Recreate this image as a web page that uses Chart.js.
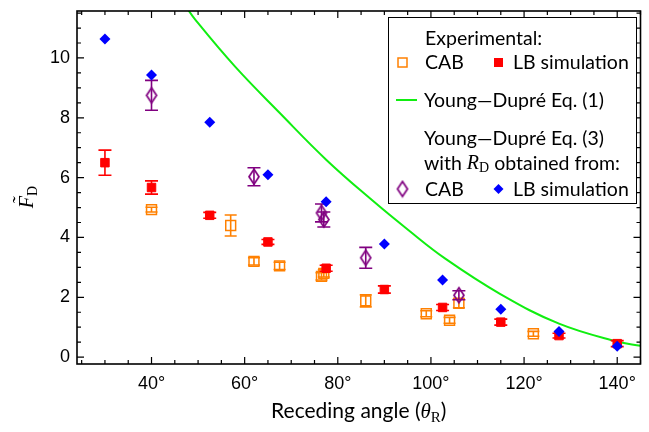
<!DOCTYPE html>
<html>
<head>
<meta charset="utf-8">
<script src="https://cdn.jsdelivr.net/npm/chart.js@4.4.1/dist/chart.umd.min.js"></script>
<style>
  html, body { margin: 0; padding: 0; background: #fff; }
  #wrap { width: 649px; height: 432px; position: relative; }
</style>
</head>
<body>
<div id="wrap"><canvas id="c"></canvas></div>
<script>
/* ── data ─────────────────────────────────────────────────────────── */
// LB simulation (red squares)
const lbAngles = [30, 40, 52.5, 65, 77.5, 90, 102.5, 115, 127.5, 140];
const lbForce  = [6.5, 5.67, 4.74, 3.85, 2.97, 2.26, 1.66, 1.17, 0.72, 0.45];
const lbErr    = [0.42, 0.22, 0.1, 0.08, 0.1, 0.12, 0.1, 0.1, 0.08, 0.1];

// CAB experiments (orange open squares)
const cabAngles = [40, 57, 62, 67.5, 76.5, 77, 86, 99, 104, 106, 122];
const cabForce  = [4.93, 4.4, 3.2, 3.05, 2.7, 2.8, 1.88, 1.45, 1.23, 1.8, 0.78];
const cabErr    = [0.08, 0.35, 0.12, 0.12, 0.12, 0.12, 0.2, 0.1, 0.1, 0.15, 0.08];

// Young–Dupré Eq. (3) with R_D from CAB (purple open diamonds)
const ydCabAngles = [40, 62, 76.5, 77, 86, 106];
const ydCabForce  = [8.75, 6.03, 4.82, 4.6, 3.32, 2.07];
const ydCabErr    = [0.5, 0.3, 0.3, 0.25, 0.35, 0.15];

// Young–Dupré Eq. (3) with R_D from LB simulation (blue diamonds)
const ydLbForce = [10.63, 9.43, 7.85, 6.1, 5.19, 3.78, 2.58, 1.6, 0.86, 0.36];

// Young–Dupré Eq. (1) curve (green)
const eq1Angles = [47, 49.6, 58, 67.6, 77.5, 87.4, 95.2, 103, 115, 127.5, 140, 145];
const eq1Force  = [11.8, 11.24, 9.7, 8.15, 6.6, 5.24, 4.24, 3.3, 2.1, 1.12, 0.52, 0.38];

const xTickLabels = [40, 60, 80, 100, 120, 140];
const yTickLabels = [0, 2, 4, 6, 8, 10];

const X_MIN = 24, X_MAX = 145;
const Y_MIN = -0.23, Y_MAX = 11.57;

const ORANGE = '#ff8000';
const RED    = '#ff0000';
const PURPLE = '#800080';
const BLUE   = '#0000ff';
const GREEN  = '#11ee11';

const TEXT_FONT = '19.5px Lato, "Open Sans", sans-serif';
const SERIF_IT  = 'italic 20px "Liberation Serif", "DejaVu Serif", serif';
const SERIF     = '14px "Liberation Serif", "DejaVu Serif", serif';

const pts = (xs, ys) => xs.map((x, i) => ({ x, y: ys[i] }));

/* ── open diamond marker (a bit taller than wide) ─────────────────── */
function diamondCanvas(w, h, color, lw) {
  const c = document.createElement('canvas');
  c.width = w + 4; c.height = h + 4;
  const g = c.getContext('2d');
  const cx = c.width / 2, cy = c.height / 2;
  g.strokeStyle = color; g.lineWidth = lw;
  g.beginPath();
  g.moveTo(cx, cy - h / 2); g.lineTo(cx + w / 2, cy);
  g.lineTo(cx, cy + h / 2); g.lineTo(cx - w / 2, cy);
  g.closePath(); g.stroke();
  return c;
}
const purpleDiamond = diamondCanvas(10, 15, PURPLE, 1.7);

/* ── error bars, drawn right after each dataset ───────────────────── */
const errorBars = {
  id: 'errorBars',
  afterDatasetDraw(chart, args) {
    const ds = chart.data.datasets[args.index];
    if (!ds.errors) return;
    const { ctx, scales: { x, y } } = chart;
    ctx.save();
    ctx.strokeStyle = ds.errColor;
    ctx.lineWidth = 1.6;
    ds.data.forEach((p, i) => {
      const e = ds.errors[i];
      const px = x.getPixelForValue(p.x);
      const t = y.getPixelForValue(p.y + e);
      const b = y.getPixelForValue(p.y - e);
      ctx.beginPath();
      ctx.moveTo(px, t); ctx.lineTo(px, b);
      ctx.moveTo(px - ds.capW, t); ctx.lineTo(px + ds.capW, t);
      ctx.moveTo(px - ds.capW, b); ctx.lineTo(px + ds.capW, b);
      ctx.stroke();
    });
    ctx.restore();
  },
};

/* ── frame, inward ticks, axis titles, legend ─────────────────────── */
const decor = {
  id: 'decor',
  afterDraw(chart) {
    const { ctx, chartArea: a, scales: { x, y } } = chart;
    ctx.save();
    ctx.strokeStyle = '#000';
    ctx.lineWidth = 1.6;
    ctx.strokeRect(a.left, a.top, a.right - a.left, a.bottom - a.top);

    ctx.lineWidth = 1.2;
    ctx.beginPath();
    for (let v = 25; v <= X_MAX; v += 5) {
      const px = x.getPixelForValue(v);
      const len = v % 20 === 0 ? 7 : 4;
      ctx.moveTo(px, a.bottom); ctx.lineTo(px, a.bottom - len);
      ctx.moveTo(px, a.top);    ctx.lineTo(px, a.top + len);
    }
    for (let v = 0; v <= Y_MAX; v += 0.5) {
      const py = y.getPixelForValue(v);
      const len = v % 2 === 0 ? 7 : 4;
      ctx.moveTo(a.left, py);  ctx.lineTo(a.left + len, py);
      ctx.moveTo(a.right, py); ctx.lineTo(a.right - len, py);
    }
    ctx.stroke();

    ctx.fillStyle = '#000';
    ctx.textBaseline = 'alphabetic';

    // y title: F~ with subscript D, rotated
    ctx.save();
    ctx.translate(33, 197);
    ctx.rotate(-Math.PI / 2);
    ctx.font = SERIF_IT;
    const fW = ctx.measureText('F').width;
    ctx.font = SERIF;
    const dW = ctx.measureText('D').width;
    const x0 = -(fW + dW) / 2;
    ctx.font = SERIF_IT;
    ctx.fillText('F', x0, 0);
    ctx.fillText('\u02DC', x0 + 4, -6);
    ctx.font = SERIF;
    ctx.fillText('D', x0 + fW, 4);
    ctx.restore();

    // x title: Receding angle (θR)
    const cx = (a.left + a.right) / 2;
    const sans = '21px Lato, "Open Sans", sans-serif';
    const parts = [
      { s: 'Receding angle (', f: sans, dy: 0 },
      { s: '\u03B8', f: 'italic 21px "Liberation Serif", serif', dy: 0 },
      { s: 'R', f: '15px "Liberation Serif", serif', dy: 4 },
      { s: ')', f: sans, dy: 0 },
    ];
    let tw = 0;
    parts.forEach(p => { ctx.font = p.f; p.w = ctx.measureText(p.s).width; tw += p.w; });
    let tx = cx - tw / 2;
    parts.forEach(p => { ctx.font = p.f; ctx.fillText(p.s, tx, 418 + p.dy); tx += p.w; });

    // legend
    const L = { l: 388, t: 17, r: 636, b: 203 };
    ctx.fillStyle = '#fff';
    ctx.fillRect(L.l, L.t, L.r - L.l, L.b - L.t);
    ctx.strokeStyle = '#000';
    ctx.lineWidth = 1;
    ctx.strokeRect(L.l + 0.5, L.t + 0.5, L.r - L.l, L.b - L.t);

    ctx.fillStyle = '#000';
    ctx.font = TEXT_FONT;
    ctx.textBaseline = 'middle';
    ctx.fillText('Experimental:', 425, 39);
    ctx.fillText('CAB', 425, 63);
    ctx.fillText('LB simulation', 513, 63);
    ctx.fillText('Young\u2014Dupr\u00E9 Eq. (1)', 424, 101);
    ctx.fillText('Young\u2014Dupr\u00E9 Eq. (3)', 424, 139);
    let wx = 424;
    ctx.fillText('with ', wx, 164); wx += ctx.measureText('with ').width;
    ctx.font = 'italic 20px "Liberation Serif", serif';
    ctx.fillText('R', wx, 164); wx += ctx.measureText('R').width;
    ctx.font = '14px "Liberation Serif", serif';
    ctx.fillText('D', wx, 168); wx += ctx.measureText('D').width;
    ctx.font = TEXT_FONT;
    ctx.fillText(' obtained from:', wx, 164);
    ctx.fillText('CAB', 425, 190);
    ctx.fillText('LB simulation', 513, 190);

    // legend markers
    ctx.lineWidth = 1.5;
    ctx.strokeStyle = ORANGE;
    ctx.strokeRect(398, 58, 9, 9);
    ctx.fillStyle = RED;
    ctx.fillRect(494, 58, 9, 9);
    ctx.strokeStyle = GREEN;
    ctx.lineWidth = 2;
    ctx.beginPath(); ctx.moveTo(396, 100); ctx.lineTo(417, 100); ctx.stroke();
    ctx.drawImage(purpleDiamond, 402.5 - purpleDiamond.width / 2, 189 - purpleDiamond.height / 2);
    ctx.fillStyle = BLUE;
    ctx.beginPath();
    ctx.moveTo(498.5, 184); ctx.lineTo(503.5, 189); ctx.lineTo(498.5, 194); ctx.lineTo(493.5, 189);
    ctx.closePath(); ctx.fill();
    ctx.restore();
  },
};

new Chart(document.getElementById('c'), {
  type: 'scatter',
  data: {
    datasets: [
      {
        label: 'Young—Dupré Eq. (1)',
        type: 'line',
        data: pts(eq1Angles, eq1Force),
        borderColor: GREEN,
        borderWidth: 2,
        pointRadius: 0,
        fill: false,
        tension: 0.4,
        order: 5,
      },
      {
        label: 'CAB',
        data: pts(cabAngles, cabForce),
        pointStyle: 'rect',
        pointRadius: 7,
        borderColor: ORANGE,
        backgroundColor: 'rgba(255,255,255,0)',
        borderWidth: 1.5,
        errors: cabErr, errColor: ORANGE, capW: 6,
        order: 4,
      },
      {
        label: 'LB simulation',
        data: pts(lbAngles, lbForce),
        pointStyle: 'rect',
        pointRadius: 6,
        borderColor: RED,
        backgroundColor: RED,
        borderWidth: 1,
        errors: lbErr, errColor: RED, capW: 6.5,
        order: 3,
      },
      {
        label: 'CAB (Eq. 3)',
        data: pts(ydCabAngles, ydCabForce),
        pointStyle: purpleDiamond,
        errors: ydCabErr, errColor: PURPLE, capW: 6.5,
        order: 1,
      },
      {
        label: 'LB simulation (Eq. 3)',
        data: pts(lbAngles, ydLbForce),
        pointStyle: 'rectRot',
        pointRadius: 5.5,
        borderColor: BLUE,
        backgroundColor: BLUE,
        borderWidth: 0,
        order: 0,
      },
    ],
  },
  options: {
    responsive: true,
    maintainAspectRatio: false,
    animation: false,
    layout: { padding: { left: 0, right: 4, top: 11, bottom: 0 } },
    plugins: { legend: { display: false }, tooltip: { enabled: false } },
    scales: {
      x: {
        type: 'linear',
        min: X_MIN, max: X_MAX,
        grid: { display: false, drawTicks: false },
        border: { display: false },
        afterBuildTicks: s => { s.ticks = xTickLabels.map(v => ({ value: v })); },
        ticks: {
          autoSkip: false,
          maxRotation: 0,
          padding: 9,
          color: '#000',
          font: { family: '"Liberation Sans", Arial, sans-serif', size: 18 },
          callback: v => `${v}°`,
        },
        afterFit: s => { s.height = 68; s.paddingLeft = 0; s.paddingRight = 0; },
      },
      y: {
        min: Y_MIN, max: Y_MAX,
        grid: { display: false, drawTicks: false },
        border: { display: false },
        afterBuildTicks: s => { s.ticks = yTickLabels.map(v => ({ value: v })); },
        ticks: {
          autoSkip: false,
          padding: 7,
          color: '#000',
          font: { family: '"Liberation Sans", Arial, sans-serif', size: 18 },
          callback: v => String(v),
        },
        afterFit: s => { s.width = 77; s.paddingTop = 0; s.paddingBottom = 0; },
      },
    },
  },
  plugins: [errorBars, decor],
});
</script>
</body>
</html>
